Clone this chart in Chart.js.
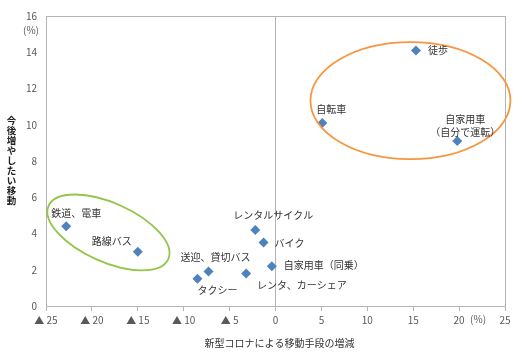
<!DOCTYPE html>
<html><head><meta charset="utf-8">
<script src="https://cdn.jsdelivr.net/npm/chart.js@4/dist/chart.umd.min.js"></script>
<style>html,body{margin:0;padding:0;background:#fff}#wrap{width:523px;height:363px;position:relative}</style>
</head><body><div id="wrap"><canvas id="c" width="523" height="363"></canvas></div>
<script>
const categories = ['徒歩','自転車','自家用車\n（自分で運転）','鉄道、電車','路線バス','レンタルサイクル','バイク','自家用車（同乗）','レンタ、カーシェア','送迎、貸切バス','タクシー'];
const xValues = [15.3, 5.1, 19.8, -22.8, -15.0, -2.2, -1.3, -0.4, -3.2, -7.3, -8.5];
const yValues = [14.1, 10.1, 9.1, 4.4, 3.0, 4.2, 3.5, 2.2, 1.8, 1.9, 1.5];
const xTicks = [-25,-20,-15,-10,-5,0,5,10,15,20,25];
const yTicks = [0,2,4,6,8,10,12,14,16];
const xTitle = '新型コロナによる移動手段の増減';
const yTitle = '今後増やしたい移動';
const unitLabel = '(%)';

// label placement (pixel offsets from the point), style only
const labelOffsets = [
  {dx:12,dy:0,align:'left'},{dx:-6,dy:-14,align:'left'},{dx:8,dy:-22,align:'center'},
  {dx:-15,dy:-13,align:'left'},{dx:-46,dy:-10,align:'left'},{dx:-22,dy:-15,align:'left'},
  {dx:11,dy:1,align:'left'},{dx:12,dy:-1,align:'left'},{dx:11,dy:12,align:'left'},
  {dx:-28,dy:-14,align:'left'},{dx:0,dy:11,align:'left'}
];
// group ellipses: centre in data units, radii in px
const groupEllipses = [
  {cx:14.7, cy:11.33, rx:100, ry:58.5, rot:0, color:'#F7963F'},
  {cx:-18.2, cy:4.06, rx:65.5, ry:29.5, rot:24, color:'#92C64A'}
];

const FONT = '"Noto Sans CJK JP","Noto Sans",sans-serif';

const overlay = {
  id:'overlay',
  afterDatasetsDraw(chart){
    const ctx = chart.ctx, xs = chart.scales.x, ys = chart.scales.y;
    ctx.save();
    groupEllipses.forEach(e=>{
      ctx.beginPath();
      ctx.ellipse(xs.getPixelForValue(e.cx), ys.getPixelForValue(e.cy), e.rx, e.ry, e.rot*Math.PI/180, 0, Math.PI*2);
      ctx.strokeStyle = e.color; ctx.lineWidth = 1.8; ctx.stroke();
    });
    ctx.font = '10px '+FONT; ctx.fillStyle = '#333'; ctx.textBaseline = 'middle';
    categories.forEach((c,i)=>{
      const o = labelOffsets[i];
      const px = xs.getPixelForValue(xValues[i]) + o.dx, py = ys.getPixelForValue(yValues[i]) + o.dy;
      ctx.textAlign = o.align;
      c.split('\n').forEach((ln,k)=>ctx.fillText(ln, px, py + k*13));
    });
    ctx.fillStyle = '#333'; ctx.textAlign='center';
    ctx.font = '10px '+FONT;
    ctx.fillText(xTitle, (xs.left+xs.right)/2 + 4, 343);
    ctx.fillStyle = '#595959';
    ctx.fillText(unitLabel, 31, 30);
    ctx.fillText(unitLabel, xs.getPixelForValue(20)+19, 319);
    ctx.fillStyle = '#222'; ctx.font = 'bold 9.5px '+FONT;
    [...yTitle].forEach((ch,i)=>ctx.fillText(ch, 11.5, 120 + i*10));
    ctx.restore();
  }
};

new Chart(document.getElementById('c'), {
  type:'scatter',
  data:{datasets:[{
    data: xValues.map((x,i)=>({x, y:yValues[i]})),
    pointStyle:'rectRot', pointRadius:5, pointHoverRadius:5,
    backgroundColor:'#4F81BD', borderColor:'#4F81BD', borderWidth:0
  }]},
  options:{
    responsive:false, animation:false, devicePixelRatio:1,
    layout:{padding:{top:16,right:18,left:0,bottom:0}},
    plugins:{legend:{display:false},tooltip:{enabled:false}},
    scales:{
      x:{
        type:'linear', min:-25, max:25,
        afterBuildTicks(s){ s.ticks = xTicks.map(v=>({value:v})); },
        afterFit(s){ s.height = 57; },
        ticks:{ font:{size:10,family:FONT}, color:'#595959', padding:3, maxRotation:0, autoSkip:false,
          callback:v=> v<0 ? '▲ '+Math.abs(v) : String(v) },
        grid:{ color:c=> (c.tick && (c.tick.value===0 || c.tick.value===25)) ? '#b4b4b4' : 'rgba(0,0,0,0)',
          tickColor:'#b4b4b4', tickLength:5, lineWidth:1 },
        border:{display:true,color:'#b4b4b4'}
      },
      y:{
        type:'linear', min:0, max:16,
        afterBuildTicks(s){ s.ticks = yTicks.map(v=>({value:v})); },
        afterFit(s){ s.width = 46; },
        ticks:{ font:{size:10,family:FONT}, color:'#595959', padding:9 },
        grid:{ color:c=> (c.tick && c.tick.value===16) ? '#b4b4b4' : 'rgba(0,0,0,0)', drawTicks:false },
        border:{display:true,color:'#b4b4b4'}
      }
    }
  },
  plugins:[overlay]
});
</script></body></html>
